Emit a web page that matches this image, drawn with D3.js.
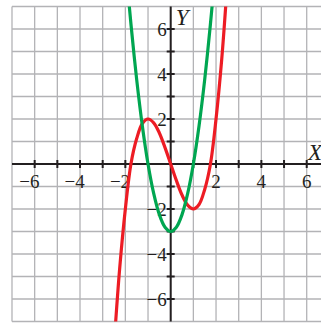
<!DOCTYPE html>
<html><head><meta charset="utf-8">
<script src="https://cdn.jsdelivr.net/npm/d3@7"></script>
<style>html,body{margin:0;padding:0;background:#fff;}svg{display:block;}</style>
</head><body><div id="chart"></div>
<script>
const redX = [-2.45,-2.25,-2,-1.75,-1.5,-1.25,-1,-0.75,-0.5,-0.25,0,0.25,0.5,0.75,1,1.25,1.5,1.75,2,2.25,2.45];
const redY = [-7.35,-4.64,-2,0.02,1.13,1.8,2,1.83,1.38,0.73,0,-0.73,-1.38,-1.83,-2,-1.8,-1.13,-0.02,2,4.64,7.35];
const greenX = [-1.9,-1.75,-1.5,-1.25,-1,-0.75,-0.5,-0.25,0,0.25,0.5,0.75,1,1.25,1.5,1.75,1.9];
const greenY = [7.83,6.19,3.75,1.69,0,-1.31,-2.25,-2.81,-3,-2.81,-2.25,-1.31,0,1.69,3.75,6.19,7.83];
const xTickLabels = [-6,-4,-2,2,4,6];
const yTickLabels = [-6,-4,-2,2,4,6];
const gridValues = [-7,-6,-5,-4,-3,-2,-1,0,1,2,3,4,5,6,7];

const W = 321, H = 323;
const x = d3.scaleLinear().domain([-7,7]).range([12, 12 + 14*22.67]);
const y = d3.scaleLinear().domain([-7,7]).range([321.5, 6.5]);

const svg = d3.select("#chart").append("svg").attr("width", W).attr("height", H);
svg.append("defs").append("clipPath").attr("id","clip")
  .append("rect").attr("x", x(-7)).attr("y", y(7)).attr("width", x(7)-x(-7)).attr("height", y(-7)-y(7));

const grid = svg.append("g").attr("stroke", "#b3b3b6").attr("stroke-width", 1.3);
grid.selectAll("line.v").data(gridValues).join("line").attr("class","v")
  .attr("x1", d => x(d)).attr("x2", d => x(d)).attr("y1", y(7)).attr("y2", y(-7));
grid.selectAll("line.h").data(gridValues).join("line").attr("class","h")
  .attr("y1", d => y(d)).attr("y2", d => y(d)).attr("x1", x(-7)).attr("x2", x(7));

// axes
const ax = svg.append("g").attr("stroke", "#231f20").attr("stroke-width", 2);
ax.append("line").attr("x1", x(-7)).attr("x2", W).attr("y1", y(0)).attr("y2", y(0));
ax.append("line").attr("x1", x(0)).attr("x2", x(0)).attr("y1", y(7)).attr("y2", y(-7));
const ticks = gridValues.filter(d => d !== 0 && d > -7 && d < 7);
ax.selectAll("line.xt").data(ticks).join("line").attr("class","xt")
  .attr("x1", d => x(d)).attr("x2", d => x(d)).attr("y1", y(0)-4).attr("y2", y(0)+4);
ax.selectAll("line.yt").data(ticks).join("line").attr("class","yt")
  .attr("y1", d => y(d)).attr("y2", d => y(d)).attr("x1", x(0)-4).attr("x2", x(0)+4);

const fmt = d => d < 0 ? "\u2212" + Math.abs(d) : String(d);
const lab = svg.append("g").attr("font-family", "'Liberation Serif', 'DejaVu Serif', serif")
  .attr("font-size", 19).attr("fill", "#231f20");
lab.selectAll("text.xl").data(xTickLabels).join("text").attr("class","xl")
  .attr("x", d => x(d) + (d < 0 ? 4.75 : 0)).attr("y", y(0) + 24)
  .attr("text-anchor", d => d < 0 ? "end" : "middle").text(fmt);
lab.selectAll("text.yl").data(yTickLabels).join("text").attr("class","yl")
  .attr("x", x(0) - 4).attr("y", d => y(d)).attr("dy", "0.35em")
  .attr("text-anchor", "end").text(fmt);
lab.append("text").attr("x", x(0) + 5).attr("y", y(6.55) + 8).attr("font-style","italic").attr("font-size", 23).text("Y");
lab.append("text").attr("x", 308).attr("y", y(0) - 4).attr("font-style","italic").attr("font-size", 23).text("X");

const line = d3.line().x(d => x(d[0])).y(d => y(d[1])).curve(d3.curveCatmullRom);
const curves = svg.append("g").attr("clip-path", "url(#clip)").attr("fill", "none").attr("stroke-width", 3.2);
curves.append("path").attr("d", line(redX.map((v,i)=>[v, redY[i]]))).attr("stroke", "#ed1c24");
curves.append("path").attr("d", line(greenX.map((v,i)=>[v, greenY[i]]))).attr("stroke", "#00a651");
</script></body></html>
